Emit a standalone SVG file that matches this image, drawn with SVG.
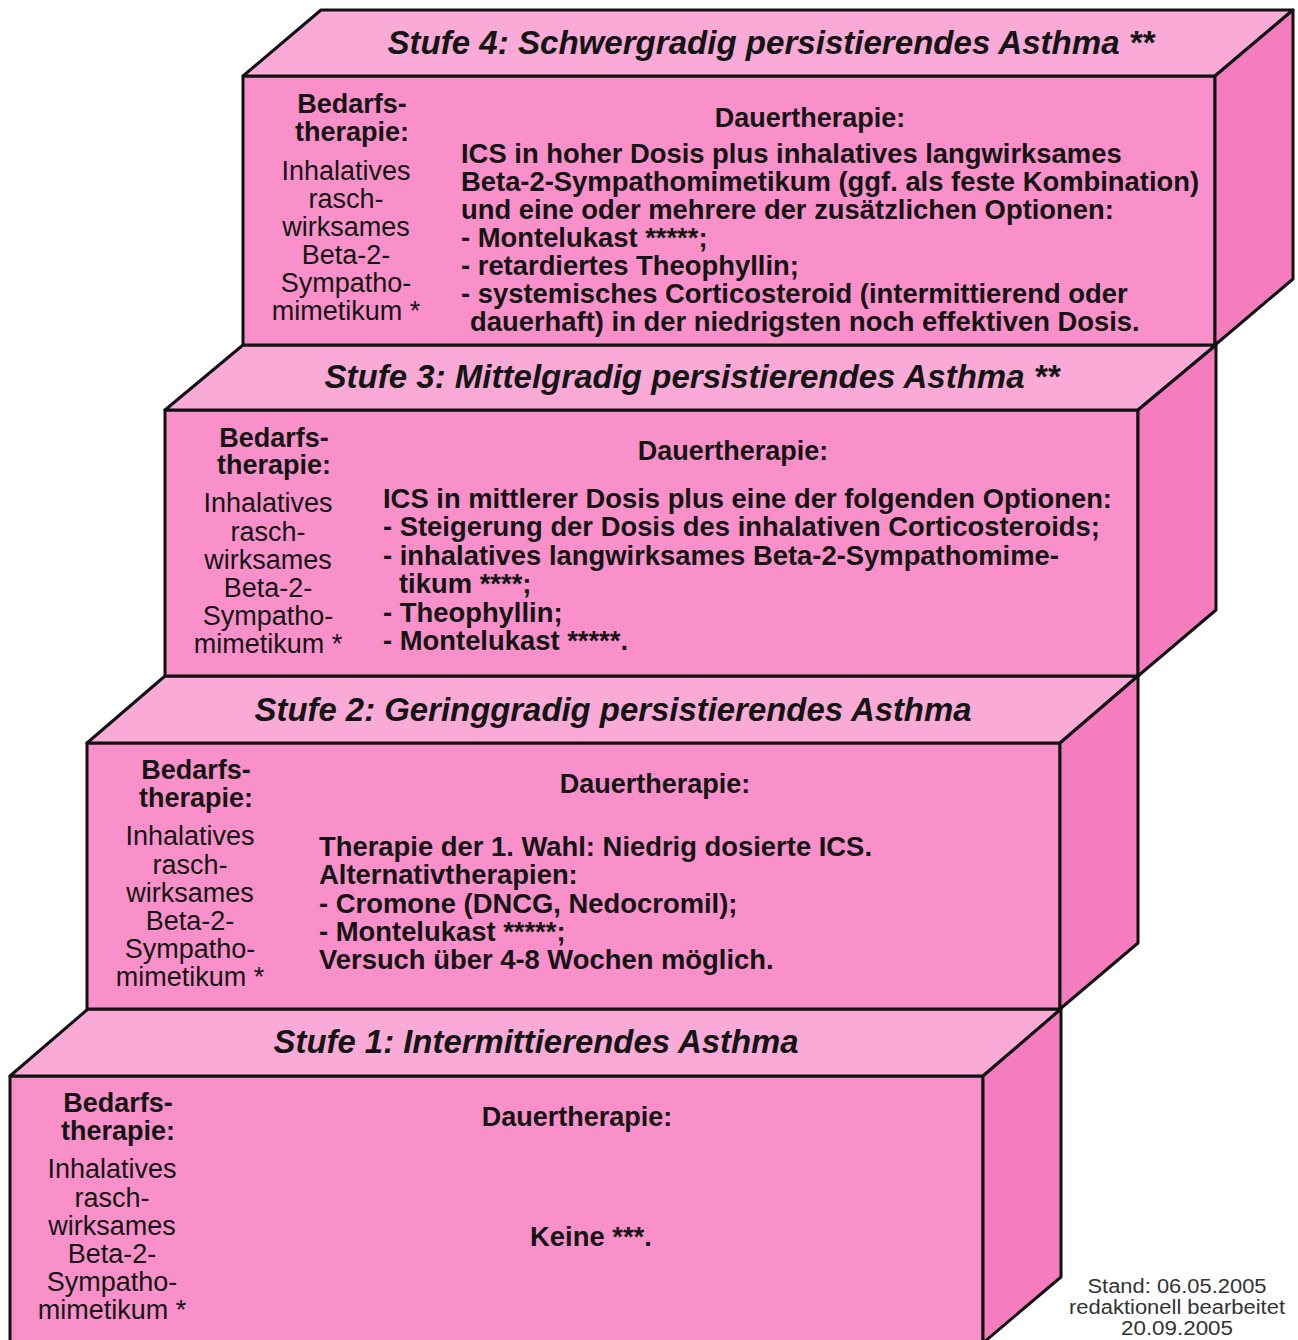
<svg xmlns="http://www.w3.org/2000/svg" width="1298" height="1340" viewBox="0 0 1298 1340">
<defs>
<style>
.front{fill:#F990C9;stroke:#111;stroke-width:3;stroke-linejoin:round}
.top{fill:#F9AAD6;stroke:#111;stroke-width:3;stroke-linejoin:round}
.side{fill:#F57DBE;stroke:#111;stroke-width:3;stroke-linejoin:round}
text{font-family:"Liberation Sans",Arial,sans-serif;fill:#141414}
.title{font-size:32.5px;font-weight:bold;font-style:italic;text-anchor:middle}
.hd{font-size:27px;font-weight:bold;text-anchor:middle}
.lc{font-size:27px;text-anchor:middle}
.ct{font-size:27.4px;font-weight:bold}
.ft{font-size:19.5px;fill:#333;text-anchor:middle}
</style>
</defs>
<rect width="1298" height="1340" fill="#fff"/>

<g id="stufe1">
<polygon class="front" points="10,1076 983,1076 983,1345 10,1345"/>
<polygon class="top" points="10,1076 88,1009 1061,1009 983,1076"/>
<polygon class="side" points="983,1076 1061,1009 1061,1277 983,1343"/>
<text class="title" x="536" y="1053" textLength="525" lengthAdjust="spacingAndGlyphs">Stufe 1: Intermittierendes Asthma</text>
<text class="hd" x="118" y="1112">Bedarfs-</text>
<text class="hd" x="118" y="1140">therapie:</text>
<text class="lc" x="112" y="1178">Inhalatives</text>
<text class="lc" x="112" y="1207">rasch-</text>
<text class="lc" x="112" y="1235">wirksames</text>
<text class="lc" x="112" y="1263">Beta-2-</text>
<text class="lc" x="112" y="1291">Sympatho-</text>
<text class="lc" x="112" y="1319">mimetikum *</text>
<text class="hd" x="577" y="1126">Dauertherapie:</text>
<text class="ct" x="591" y="1246" text-anchor="middle">Keine ***.</text>
</g>

<g id="stufe2">
<polygon class="front" points="87,743 1060,743 1060,1009 87,1009"/>
<polygon class="top" points="87,743 165,676 1138,676 1060,743"/>
<polygon class="side" points="1060,743 1138,676 1138,943 1060,1009"/>
<text class="title" x="613" y="721" textLength="717" lengthAdjust="spacingAndGlyphs">Stufe 2: Geringgradig persistierendes Asthma</text>
<text class="hd" x="196" y="779">Bedarfs-</text>
<text class="hd" x="196" y="807">therapie:</text>
<text class="lc" x="190" y="845">Inhalatives</text>
<text class="lc" x="190" y="874">rasch-</text>
<text class="lc" x="190" y="902">wirksames</text>
<text class="lc" x="190" y="930">Beta-2-</text>
<text class="lc" x="190" y="958">Sympatho-</text>
<text class="lc" x="190" y="986">mimetikum *</text>
<text class="hd" x="655" y="793">Dauertherapie:</text>
<text class="ct" x="319" y="856">Therapie der 1. Wahl: Niedrig dosierte ICS.</text>
<text class="ct" x="319" y="884">Alternativtherapien:</text>
<text class="ct" x="319" y="913">- Cromone (DNCG, Nedocromil);</text>
<text class="ct" x="319" y="941">- Montelukast *****;</text>
<text class="ct" x="319" y="969">Versuch über 4-8 Wochen möglich.</text>
</g>

<g id="stufe3">
<polygon class="front" points="165,410 1138,410 1138,676 165,676"/>
<polygon class="top" points="165,410 243,345 1216,345 1138,410"/>
<polygon class="side" points="1138,410 1216,345 1216,610 1138,676"/>
<text class="title" x="692" y="388" textLength="735" lengthAdjust="spacingAndGlyphs">Stufe 3: Mittelgradig persistierendes Asthma **</text>
<text class="hd" x="274" y="447">Bedarfs-</text>
<text class="hd" x="274" y="474">therapie:</text>
<text class="lc" x="268" y="512">Inhalatives</text>
<text class="lc" x="268" y="541">rasch-</text>
<text class="lc" x="268" y="569">wirksames</text>
<text class="lc" x="268" y="597">Beta-2-</text>
<text class="lc" x="268" y="625">Sympatho-</text>
<text class="lc" x="268" y="653">mimetikum *</text>
<text class="hd" x="733" y="460">Dauertherapie:</text>
<text class="ct" x="383" y="508">ICS in mittlerer Dosis plus eine der folgenden Optionen:</text>
<text class="ct" x="383" y="536">- Steigerung der Dosis des inhalativen Corticosteroids;</text>
<text class="ct" x="383" y="565">- inhalatives langwirksames Beta-2-Sympathomime-</text>
<text class="ct" x="399" y="593">tikum ****;</text>
<text class="ct" x="383" y="622">- Theophyllin;</text>
<text class="ct" x="383" y="650">- Montelukast *****.</text>
</g>

<g id="stufe4">
<polygon class="front" points="243,76 1215,76 1215,345 243,345"/>
<polygon class="top" points="243,76 321,10 1293,10 1215,76"/>
<polygon class="side" points="1215,76 1293,10 1293,279 1215,345"/>
<text class="title" x="771" y="54" textLength="767" lengthAdjust="spacingAndGlyphs">Stufe 4: Schwergradig persistierendes Asthma **</text>
<text class="hd" x="352" y="113">Bedarfs-</text>
<text class="hd" x="352" y="141">therapie:</text>
<text class="lc" x="346" y="180">Inhalatives</text>
<text class="lc" x="346" y="208">rasch-</text>
<text class="lc" x="346" y="236">wirksames</text>
<text class="lc" x="346" y="264">Beta-2-</text>
<text class="lc" x="346" y="292">Sympatho-</text>
<text class="lc" x="346" y="320">mimetikum *</text>
<text class="hd" x="810" y="127">Dauertherapie:</text>
<text class="ct" x="461" y="163">ICS in hoher Dosis plus inhalatives langwirksames</text>
<text class="ct" x="461" y="191">Beta-2-Sympathomimetikum (ggf. als feste Kombination)</text>
<text class="ct" x="461" y="219">und eine oder mehrere der zusätzlichen Optionen:</text>
<text class="ct" x="461" y="247">- Montelukast *****;</text>
<text class="ct" x="461" y="275">- retardiertes Theophyllin;</text>
<text class="ct" x="461" y="303">- systemisches Corticosteroid (intermittierend oder</text>
<text class="ct" x="470" y="331">dauerhaft) in der niedrigsten noch effektiven Dosis.</text>
</g>

<g id="footer">
<text class="ft" x="1177" y="1293" textLength="179" lengthAdjust="spacingAndGlyphs">Stand: 06.05.2005</text>
<text class="ft" x="1177" y="1314" textLength="216" lengthAdjust="spacingAndGlyphs">redaktionell bearbeitet</text>
<text class="ft" x="1177" y="1335" textLength="112" lengthAdjust="spacingAndGlyphs">20.09.2005</text>
</g>
</svg>
